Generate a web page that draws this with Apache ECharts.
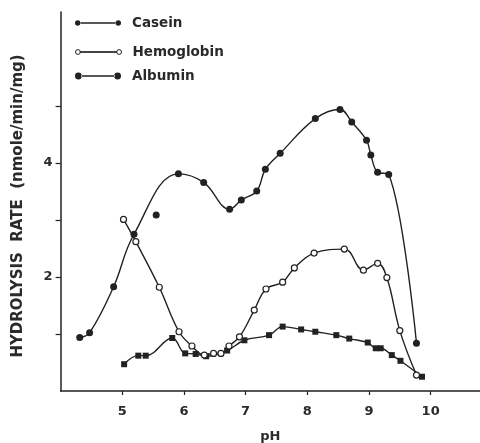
<!DOCTYPE html>
<html>
<head>
<meta charset="utf-8">
<script src="https://cdn.jsdelivr.net/npm/echarts@6/dist/echarts.min.js"></script>
<style>
  html, body { margin: 0; padding: 0; background: #ffffff; }
  #chart { width: 480px; height: 443px; }
</style>
</head>
<body>
<div id="chart"></div>
<script>
// Hydrolysis rate (nmole/min/mg) versus pH for three substrates
const caseinPH = [5.03, 5.26, 5.38, 5.81, 6.02, 6.19, 6.36, 6.70, 6.98, 7.38, 7.60, 7.90, 8.13, 8.47, 8.68, 8.98, 9.11, 9.19, 9.37, 9.51, 9.86];
const caseinRate = [0.47, 0.62, 0.62, 0.93, 0.66, 0.65, 0.61, 0.71, 0.89, 0.98, 1.13, 1.08, 1.04, 0.98, 0.92, 0.85, 0.75, 0.75, 0.63, 0.53, 0.25];

const hemoglobinPH = [5.02, 5.22, 5.60, 5.92, 6.13, 6.33, 6.48, 6.60, 6.73, 6.90, 7.14, 7.33, 7.60, 7.79, 8.11, 8.60, 8.91, 9.14, 9.29, 9.50, 9.77];
const hemoglobinRate = [3.01, 2.62, 1.82, 1.04, 0.79, 0.63, 0.66, 0.66, 0.79, 0.95, 1.42, 1.79, 1.91, 2.16, 2.42, 2.49, 2.12, 2.24, 1.99, 1.06, 0.28];

const albuminPH = [4.31, 4.47, 4.86, 5.19, 5.91, 6.32, 6.74, 6.93, 7.18, 7.32, 7.56, 8.13, 8.53, 8.72, 8.96, 9.03, 9.14, 9.32, 9.77];
const albuminRate = [0.94, 1.02, 1.83, 2.75, 3.81, 3.66, 3.19, 3.35, 3.51, 3.89, 4.17, 4.78, 4.94, 4.72, 4.40, 4.14, 3.84, 3.80, 0.84];

// single albumin measurement lying off the fitted curve
const albuminExtraPH = [5.55];
const albuminExtraRate = [3.09];

const xTickValues = [5, 6, 7, 8, 9, 10];
const yTickValues = [1, 2, 3, 4, 5];
const yLabelValues = [2, 4];

const ink = '#222222';
const textInk = '#2a2a2a';
const fontFamily = '"DejaVu Sans", "Liberation Sans", sans-serif';

function pairs(xs, ys) {
  return xs.map((x, i) => [x, ys[i]]);
}

// legend glyphs: a short line with a marker at each end
const iconSmallDots = 'path://M0,2.7 a2.7,2.7 0 1,0 5.4,0 a2.7,2.7 0 1,0 -5.4,0 Z M40.6,2.7 a2.7,2.7 0 1,0 5.4,0 a2.7,2.7 0 1,0 -5.4,0 Z M5,2.05 L41,2.05 L41,3.35 L5,3.35 Z';
const iconOpenDots = 'path://M0,2.6 a2.4,2.4 0 1,0 4.8,0 a2.4,2.4 0 1,0 -4.8,0 Z M41.2,2.6 a2.4,2.4 0 1,0 4.8,0 a2.4,2.4 0 1,0 -4.8,0 Z M4.8,2.3 L41.2,2.3 L41.2,2.9 L4.8,2.9 Z';
const iconBigDots = 'path://M0,3.4 a3.4,3.4 0 1,0 6.8,0 a3.4,3.4 0 1,0 -6.8,0 Z M39.2,3.4 a3.4,3.4 0 1,0 6.8,0 a3.4,3.4 0 1,0 -6.8,0 Z M6,2.75 L40,2.75 L40,4.05 L6,4.05 Z';

function legendRow(name, icon, centerY, h, style) {
  return {
    data: [{ name: name, icon: icon }],
    left: 70,
    top: centerY - 8,
    height: 16,
    itemWidth: 46,
    itemHeight: h,
    selectedMode: false,
    itemStyle: style,
    textStyle: {
      fontFamily: fontFamily,
      fontSize: 13.5,
      fontWeight: 'bold',
      color: textInk,
      padding: [0, 0, 0, 6]
    }
  };
}

const chart = echarts.init(document.getElementById('chart'), null, { renderer: 'canvas' });

chart.setOption({
  animation: false,
  backgroundColor: '#ffffff',
  legend: [
    legendRow('Casein', iconSmallDots, 19, 5.4, { color: ink, borderWidth: 0 }),
    legendRow('Hemoglobin', iconOpenDots, 48, 5.2, { color: '#ffffff', borderColor: ink, borderWidth: 1 }),
    legendRow('Albumin', iconBigDots, 72, 6.8, { color: ink, borderWidth: 0 })
  ],
  grid: { left: 60.6, right: 0, top: 12, bottom: 52, outerBoundsMode: 'none', containLabel: false },
  xAxis: {
    type: 'value',
    min: 4,
    max: 10.8,
    interval: 1,
    name: 'pH',
    nameLocation: 'middle',
    nameGap: 39,
    nameTextStyle: { fontFamily: fontFamily, fontSize: 13, fontWeight: 'bold', color: textInk },
    axisLine: { lineStyle: { color: ink, width: 1.5 } },
    axisTick: { show: true, length: 4, customValues: xTickValues, lineStyle: { color: ink, width: 1.2 } },
    axisLabel: {
      customValues: xTickValues,
      margin: 14,
      fontFamily: fontFamily,
      fontSize: 13,
      fontWeight: 'bold',
      color: textInk
    },
    splitLine: { show: false }
  },
  yAxis: {
    type: 'value',
    min: 0,
    max: 6.65,
    interval: 1,
    name: 'HYDROLYSIS  RATE  (nmole/min/mg)',
    nameLocation: 'middle',
    nameGap: 35,
    nameTextStyle: { fontFamily: fontFamily, fontSize: 15, fontWeight: 'bold', color: textInk, padding: [0, 9, 0, 0] },
    axisLine: { show: true, lineStyle: { color: ink, width: 1.5 } },
    axisTick: { show: true, length: 5, customValues: yTickValues, lineStyle: { color: ink, width: 1.2 } },
    axisLabel: {
      customValues: yLabelValues,
      margin: 8,
      fontFamily: fontFamily,
      fontSize: 13,
      fontWeight: 'bold',
      color: textInk
    },
    splitLine: { show: false }
  },
  series: [
    {
      name: 'Albumin',
      type: 'line',
      smooth: 0.4,
      data: pairs(albuminPH, albuminRate),
      symbol: 'circle',
      symbolSize: 7,
      itemStyle: { color: ink },
      lineStyle: { color: ink, width: 1.4 },
      z: 3
    },
    {
      name: 'Albumin',
      type: 'scatter',
      data: pairs(albuminExtraPH, albuminExtraRate),
      symbol: 'circle',
      symbolSize: 7,
      itemStyle: { color: ink, opacity: 1 },
      z: 3
    },
    {
      name: 'Hemoglobin',
      type: 'line',
      smooth: 0.4,
      data: pairs(hemoglobinPH, hemoglobinRate),
      symbol: 'circle',
      symbolSize: 6,
      itemStyle: { color: '#ffffff', borderColor: ink, borderWidth: 1.2 },
      lineStyle: { color: ink, width: 1.4 },
      z: 4
    },
    {
      name: 'Casein',
      type: 'line',
      smooth: 0.4,
      data: pairs(caseinPH, caseinRate),
      symbol: 'rect',
      symbolSize: 6,
      itemStyle: { color: ink },
      lineStyle: { color: ink, width: 1.4 },
      z: 2
    }
  ]
});
</script>
</body>
</html>
